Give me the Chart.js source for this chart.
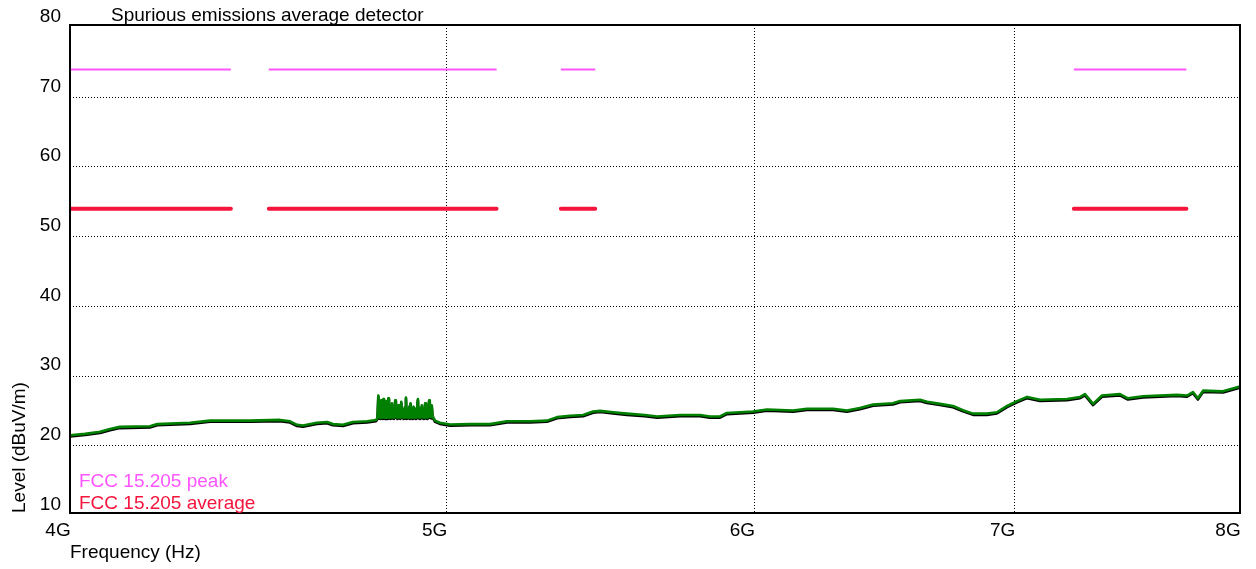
<!DOCTYPE html>
<html>
<head>
<meta charset="utf-8">
<script src="https://cdn.jsdelivr.net/npm/chart.js@4/dist/chart.umd.min.js"></script>
<style>
  html, body { margin: 0; padding: 0; background: #fff; }
  canvas { display: block; }
</style>
</head>
<body>
<canvas id="chart" width="1256" height="569"></canvas>
<script>
const TITLE = 'Spurious emissions average detector'
const X_TITLE = 'Frequency (Hz)'
const Y_TITLE = 'Level (dBuV/m)'

// axis ticks
const freqTicks = [4e9, 5e9, 6e9, 7e9, 8e9]
const freqTickLabels = ['4G', '5G', '6G', '7G', '8G']
const levelTicks = [10, 20, 30, 40, 50, 60, 70, 80]
// level span of the plot box (dBuV/m)
const levelMin = 10.34
const levelMax = 80.38

// FCC 15.205 restricted bands within the sweep (GHz) and their limits
const restrictedBands = [[4.0, 4.4], [4.5, 5.15], [5.35, 5.46], [7.25, 7.75]]
const peakLimit = 74
const averageLimit = 54
const limitNames = ['FCC 15.205 peak', 'FCC 15.205 average']

// measured trace, average detector: below the burst
const lowFreqGHz = [
  4.000, 4.036, 4.072, 4.096, 4.120, 4.194, 4.212, 4.295, 4.346, 4.450,
  4.530, 4.557, 4.576, 4.592, 4.630, 4.658, 4.674, 4.702, 4.730, 4.770, 4.795
]
const lowLevel = [
  21.5, 21.7, 22.0, 22.4, 22.7, 22.8, 23.1, 23.3, 23.6, 23.6,
  23.7, 23.5, 23.0, 22.9, 23.3, 23.4, 23.1, 23.0, 23.4, 23.5, 23.7
]
// burst around 4.8 - 4.96 GHz
const burstFreqGHz = [
  4.7993, 4.8016, 4.8037, 4.8060, 4.8077, 4.8095, 4.8112, 4.8129, 4.8144, 4.8161,
  4.8178, 4.8199, 4.8213, 4.8230, 4.8248, 4.8268, 4.8282, 4.8300, 4.8320, 4.8343,
  4.8363, 4.8404, 4.8424, 4.8447, 4.8467, 4.8499, 4.8519, 4.8542, 4.8563, 4.8586,
  4.8606, 4.8629, 4.8649, 4.8673, 4.8696, 4.8719, 4.8742, 4.8774, 4.8791, 4.8809,
  4.8829, 4.8852, 4.8875, 4.8904, 4.8922, 4.8942, 4.8962, 4.8985, 4.9006, 4.9029,
  4.9049, 4.9078, 4.9101, 4.9156, 4.9176, 4.9199, 4.9223, 4.9272, 4.9292, 4.9315,
  4.9338, 4.9367, 4.9390, 4.9413, 4.9437, 4.9483, 4.9503, 4.9526, 4.9544, 4.9561,
  4.9584, 4.9613, 4.9656
]
const burstLevel = [
  24.0, 27.2, 24.1, 25.4, 24.0, 26.5, 24.2, 25.2, 24.0, 26.7,
  24.1, 25.3, 24.0, 26.4, 24.2, 25.5, 24.0, 26.8, 24.1, 25.3,
  24.0, 26.1, 24.1, 25.4, 24.0, 26.5, 24.2, 25.1, 24.0, 25.8,
  24.1, 25.3, 24.0, 26.3, 24.2, 25.2, 24.0, 25.5, 24.1, 26.9,
  24.0, 25.3, 24.1, 25.6, 24.0, 26.1, 24.1, 25.2, 24.0, 25.6,
  24.1, 25.3, 24.0, 26.7, 24.1, 25.4, 24.0, 25.8, 24.1, 25.2,
  24.0, 26.1, 24.1, 25.3, 24.0, 26.5, 24.2, 25.3, 24.1, 25.8,
  24.3, 24.0, 23.6
]
// above the burst
const highFreqGHz = [
  4.980, 5.010, 5.070, 5.130, 5.182, 5.253, 5.306, 5.338, 5.379, 5.421,
  5.453, 5.476, 5.518, 5.564, 5.623, 5.664, 5.741, 5.810, 5.844, 5.879,
  5.903, 5.995, 6.045, 6.139, 6.190, 6.286, 6.338, 6.387, 6.437, 6.513,
  6.541, 6.618, 6.646, 6.697, 6.749, 6.789, 6.830, 6.886, 6.927, 6.969,
  7.010, 7.052, 7.106, 7.221, 7.277, 7.298, 7.333, 7.372, 7.451, 7.486,
  7.553, 7.707, 7.753, 7.780, 7.803, 7.827, 7.920, 7.953, 8.000
]
const highLevel = [
  23.3, 23.05, 23.1, 23.1, 23.5, 23.5, 23.6, 24.1, 24.3, 24.4,
  24.9, 25.0, 24.8, 24.6, 24.4, 24.2, 24.4, 24.4, 24.2, 24.2,
  24.7, 24.9, 25.2, 25.05, 25.3, 25.3, 25.05, 25.4, 25.9, 26.1,
  26.4, 26.6, 26.3, 26.0, 25.7, 25.1, 24.6, 24.6, 24.8, 25.7,
  26.4, 27.0, 26.6, 26.7, 27.0, 27.4, 26.0, 27.2, 27.4, 26.8,
  27.1, 27.3, 27.2, 27.7, 26.8, 27.9, 27.8, 28.1, 28.5
]

const PEAK_COLOR = '#ff55ff'
const AVG_COLOR = '#f5143c'
const TRACE_COLOR = '#008000'
const FONT = '"Liberation Sans", Arial, sans-serif'

// one polyline per band, broken by null points
function limitLine(level) {
  const pts = []
  restrictedBands.forEach(([a, b]) => {
    pts.push({x: a * 1e9, y: level}, {x: b * 1e9, y: level}, {x: b * 1e9, y: null})
  })
  return pts
}

const traceFreq = lowFreqGHz.concat(burstFreqGHz, highFreqGHz)
const traceLevel = lowLevel.concat(burstLevel, highLevel)
const trace = traceFreq.map((f, i) => ({x: f * 1e9, y: traceLevel[i]}))

// frame, title, limit names, and the dark edge under the trace
const decorations = {
  id: 'decorations',
  beforeDatasetDraw(chart, args) {
    if (args.index !== 2) return
    const ctx = chart.ctx
    ctx.save()
    ctx.shadowColor = '#000'
    ctx.shadowOffsetX = 0
    ctx.shadowOffsetY = 1.2
    ctx.shadowBlur = 0
  },
  afterDatasetDraw(chart, args) {
    if (args.index !== 2) return
    chart.ctx.restore()
  },
  afterDraw(chart) {
    const {ctx, chartArea: a} = chart
    ctx.save()
    ctx.strokeStyle = '#000'
    ctx.lineWidth = 2
    ctx.strokeRect(a.left, a.top, a.right - a.left, a.bottom - a.top)

    ctx.font = '19px ' + FONT
    ctx.textBaseline = 'alphabetic'
    ctx.textAlign = 'left'
    ctx.fillStyle = '#000'
    ctx.fillText(TITLE, 111, 21)

    ctx.fillStyle = PEAK_COLOR
    ctx.fillText(limitNames[0], a.left + 9, 486.5)
    ctx.fillStyle = AVG_COLOR
    ctx.fillText(limitNames[1], a.left + 9, 509)
    ctx.restore()
  }
}

// dotted grid, hidden where it would sit on the frame
const gridColor = (ctx) => {
  const v = ctx.tick && ctx.tick.value
  return (v === levelTicks[0] || v === levelTicks[levelTicks.length - 1]) ? 'rgba(0,0,0,0)' : '#000'
}

Chart.defaults.font.family = FONT
Chart.defaults.font.size = 19
Chart.defaults.color = '#000'

new Chart(document.getElementById('chart').getContext('2d'), {
  type: 'line',
  data: {
    datasets: [
      {
        label: limitNames[0],
        data: limitLine(peakLimit),
        borderColor: PEAK_COLOR,
        borderWidth: 2,
        pointRadius: 0,
        spanGaps: false,
      },
      {
        label: limitNames[1],
        data: limitLine(averageLimit),
        borderColor: AVG_COLOR,
        borderWidth: 4,
        borderCapStyle: 'round',
        pointRadius: 0,
        spanGaps: false,
      },
      {
        label: 'Average',
        data: trace,
        borderColor: TRACE_COLOR,
        borderWidth: 2.6,
        borderJoinStyle: 'round',
        borderCapStyle: 'round',
        pointRadius: 0,
        tension: 0,
      },
    ],
  },
  options: {
    animation: false,
    responsive: false,
    maintainAspectRatio: false,
    events: [],
    layout: {padding: {top: 25, right: 16, left: 0, bottom: 0}},
    plugins: {
      legend: {display: false},
      tooltip: {enabled: false},
    },
    scales: {
      x: {
        type: 'logarithmic',
        min: 4e9,
        max: 8e9,
        afterBuildTicks: (scale) => { scale.ticks = freqTicks.map(v => ({value: v})) },
        afterFit: (scale) => {
          scale.height = 56
          scale.paddingLeft = 0
          scale.paddingRight = 0
        },
        ticks: {
          autoSkip: false,
          maxRotation: 0,
          padding: 6,
          labelOffset: -12,
          callback: (value, index) => freqTickLabels[index],
        },
        grid: {color: '#000', lineWidth: 1, drawTicks: false},
        border: {display: false, dash: [1, 2]},
        title: {display: true, text: X_TITLE, align: 'start', padding: {top: 0, bottom: 5}},
      },
      y: {
        type: 'linear',
        min: levelMin,
        max: levelMax,
        afterBuildTicks: (scale) => { scale.ticks = levelTicks.map(v => ({value: v})) },
        afterFit: (scale) => {
          scale.width = 70
          scale.paddingTop = 0
          scale.paddingBottom = 0
        },
        ticks: {padding: 9, labelOffset: -11},
        grid: {color: gridColor, lineWidth: 1, drawTicks: false},
        border: {display: false, dash: [1, 2]},
        title: {display: true, text: Y_TITLE, align: 'start', padding: {top: 8, bottom: 0}},
      },
    },
  },
  plugins: [decorations],
})
</script>
</body>
</html>
